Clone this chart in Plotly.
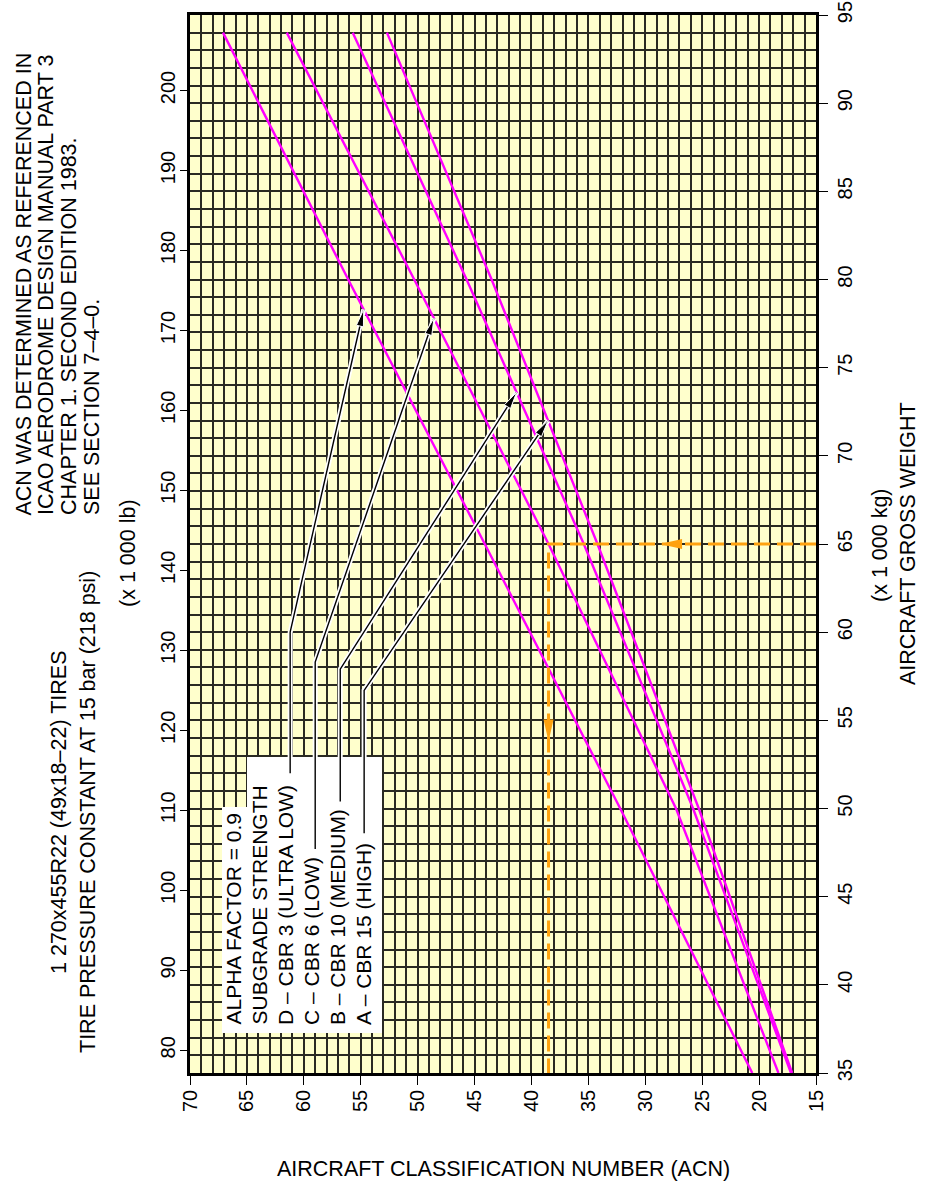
import numpy as np
import plotly.graph_objects as go

# ---------------- data ----------------
weights_kg = [35, 50, 65, 80, 94]
acn_D_cbr3 = [20.6, 32.2, 44.1, 56.1, 67.1]
acn_C_cbr6 = [18.3, 27.3, 38.5, 50.3, 61.5]
acn_B_cbr10 = [17.2, 25.8, 35.4, 45.7, 55.7]
acn_A_cbr15 = [17.1, 25.3, 34.2, 43.5, 52.7]

example_weight_kg = 65
example_acn = 38.5

acn_ticks = [70, 65, 60, 55, 50, 45, 40, 35, 30, 25, 20, 15]
kg_ticks = [35, 40, 45, 50, 55, 60, 65, 70, 75, 80, 85, 90, 95]
lb_ticks = [80, 90, 100, 110, 120, 130, 140, 150, 160, 170, 180, 190, 200]

legend_lines = ["ALPHA FACTOR = 0.9", "SUBGRADE STRENGTH",
                "D \u2013 CBR 3 (ULTRA LOW)", "C \u2013 CBR 6 (LOW)",
                "B \u2013 CBR 10 (MEDIUM)", "A \u2013 CBR 15 (HIGH)"]
header_lines = ["ACN WAS DETERMINED AS REFERENCED IN",
                "ICAO AERODROME DESIGN MANUAL PART 3",
                "CHAPTER 1. SECOND EDITION 1983.",
                "SEE SECTION 7\u20134\u20130."]
tire_lines = ["1 270x455R22 (49x18\u201322) TIRES",
              "TIRE PRESSURE CONSTANT AT 15 bar (218 psi)"]

KG_TO_LB = 2.20462
ACN_RANGE = [70, 15]
KG_RANGE = [35, 95]

FONT = "Liberation Sans, Arial, Helvetica, sans-serif"
MAGENTA = "#FF00FF"
ORANGE = "#FFA20F"

W, H = 934, 1187
PL, PR, PT, PB = 190, 816, 15, 1073   # plot area in page pixels
ML, MT, MR, MB = PL, PT, W - PR, H - PB
PW, PH = PR - PL, PB - PT


def fx(px):
    return (px - PL) / PW


def fy(py):
    return (PB - py) / PH


PX_PER_ACN = PW / (ACN_RANGE[0] - ACN_RANGE[1])
PX_PER_KG = PH / (KG_RANGE[1] - KG_RANGE[0])

fig = go.Figure()

series = [acn_D_cbr3, acn_C_cbr6, acn_B_cbr10, acn_A_cbr15]
for s in series:
    fig.add_trace(go.Scatter(x=s, y=weights_kg, mode="lines",
                             line=dict(color=MAGENTA, width=2.4),
                             hoverinfo="skip", showlegend=False))

# example reading path (orange dashed)
fig.add_trace(go.Scatter(
    x=[ACN_RANGE[1], example_acn, example_acn],
    y=[example_weight_kg, example_weight_kg, KG_RANGE[0]],
    mode="lines", line=dict(color=ORANGE, width=3, dash="16px,7px"),
    hoverinfo="skip", showlegend=False))

# invisible trace for lb axis
fig.add_trace(go.Scatter(x=[ACN_RANGE[0]], y=[KG_RANGE[0] * KG_TO_LB], yaxis="y2",
                         mode="markers", marker=dict(opacity=0),
                         hoverinfo="skip", showlegend=False))

shapes = []
annotations = []

# white box behind legend text
shapes.append(dict(type="rect", xref="paper", yref="paper",
                   x0=fx(247), x1=fx(382), y0=fy(1033), y1=fy(757),
                   fillcolor="white", line=dict(width=0), layer="above"))
shapes.append(dict(type="rect", xref="paper", yref="paper",
                   x0=fx(222), x1=fx(248), y0=fy(1033), y1=fy(807),
                   fillcolor="white", line=dict(width=0), layer="above"))

# leader lines: (bend ACN, bend kg, bottom kg, tip kg, series)
leaders = [
    (61.2, 60.0, 52.0, 78.3, acn_D_cbr3),
    (59.0, 58.3, 47.7, 77.8, acn_C_cbr6),
    (56.8, 57.9, 50.4, 73.6, acn_B_cbr10),
    (54.7, 56.7, 48.6, 72.0, acn_A_cbr15),
]
for bx, bkg, botkg, tkg, s in leaders:
    tx = float(np.interp(tkg, weights_kg, s))
    path = f"M{bx},{botkg} L{bx},{bkg} L{tx},{tkg}"
    shapes.append(dict(type="path", xref="x", yref="y", path=path,
                       line=dict(color="white", width=5), layer="above"))
    shapes.append(dict(type="path", xref="x", yref="y", path=path,
                       line=dict(color="black", width=1.4), layer="above"))
    # arrowhead in pixel space
    dx = -(tx - bx) * PX_PER_ACN
    dy = (tkg - bkg) * PX_PER_KG
    n = (dx ** 2 + dy ** 2) ** 0.5
    ux, uy = dx / n, dy / n
    L, Wd = 17, 3.6
    bxp, byp = -L * ux, -L * uy
    p1 = (bxp - Wd * uy, byp + Wd * ux)
    p2 = (bxp + Wd * uy, byp - Wd * ux)
    shapes.append(dict(type="path", xref="x", yref="y",
                       xsizemode="pixel", ysizemode="pixel",
                       xanchor=tx, yanchor=tkg,
                       path=f"M0,0 L{p1[0]:.2f},{p1[1]:.2f} L{p2[0]:.2f},{p2[1]:.2f} Z",
                       fillcolor="black", line=dict(color="white", width=1),
                       layer="above"))

# orange arrowheads
shapes.append(dict(type="path", xref="x", yref="y", xsizemode="pixel", ysizemode="pixel",
                   xanchor=28.7, yanchor=example_weight_kg,
                   path="M0,0 L22,5 L22,-5 Z", fillcolor=ORANGE,
                   line=dict(width=0), layer="above"))
shapes.append(dict(type="path", xref="x", yref="y", xsizemode="pixel", ysizemode="pixel",
                   xanchor=example_acn, yanchor=53.8,
                   path="M0,0 L5,22 L-5,22 Z", fillcolor=ORANGE,
                   line=dict(width=0), layer="above"))


def rot_text(t, px, py, yanchor="middle", size=21.5):
    return dict(xref="paper", yref="paper", x=fx(px), y=fy(py), text=t,
                showarrow=False, textangle=-90, xanchor="center", yanchor=yanchor,
                font=dict(family=FONT, size=size, color="black"))


# legend text lines (rotated)
for t, px in zip(legend_lines, [233, 259, 285, 311, 337, 363]):
    annotations.append(rot_text(t, px, 1027, "bottom", 21))
# header
for t, px in zip(header_lines, [23, 46, 69, 92]):
    annotations.append(rot_text(t, px, 517, "bottom"))
# tires
for t, px in zip(tire_lines, [59, 88]):
    annotations.append(rot_text(t, px, 812))

annotations.append(rot_text("(x 1 000 lb)", 128, 553))
annotations.append(rot_text("(x 1 000 kg)", 880, 545))
annotations.append(rot_text("AIRCRAFT GROSS WEIGHT", 908, 544))
annotations.append(dict(xref="paper", yref="paper", x=fx(503), y=fy(1169),
                        text="AIRCRAFT CLASSIFICATION NUMBER (ACN)", showarrow=False,
                        xanchor="center", yanchor="middle",
                        font=dict(family=FONT, size=21.5, color="black")))

GRID = "#2a2a22"
fig.update_layout(
    width=W, height=H,
    margin=dict(l=ML, r=MR, t=MT, b=MB, pad=0, autoexpand=False),
    paper_bgcolor="white", plot_bgcolor="#FFFFCC",
    font=dict(family=FONT, size=20, color="black"),
    showlegend=False,
    xaxis=dict(range=ACN_RANGE, tickvals=acn_ticks, ticktext=[str(v) for v in acn_ticks],
               tickangle=-90, ticks="outside", ticklen=9, tickwidth=1.2, tickcolor="black",
               ticklabelstandoff=-3, ticklabeloverflow="allow",
               showgrid=True, gridcolor=GRID, gridwidth=1.6,
               minor=dict(dtick=1, tick0=15, showgrid=True, gridcolor=GRID, gridwidth=1.6),
               showline=True, linecolor="black", linewidth=2.5, mirror=True,
               zeroline=False, tickfont=dict(size=20), automargin=False),
    yaxis=dict(range=KG_RANGE, tickvals=kg_ticks, side="right",
               tickangle=-90, ticks="outside", ticklen=9, tickwidth=1.2, tickcolor="black",
               ticklabeloverflow="allow",
               showgrid=True, gridcolor=GRID, gridwidth=1.6,
               minor=dict(dtick=1, tick0=35, showgrid=True, gridcolor=GRID, gridwidth=1.6),
               showline=True, linecolor="black", linewidth=2.5, mirror=True,
               zeroline=False, tickfont=dict(size=20), automargin=False),
    yaxis2=dict(range=[KG_RANGE[0] * KG_TO_LB, KG_RANGE[1] * KG_TO_LB], overlaying="y",
                side="left", tickvals=lb_ticks, tickangle=-90, ticks="outside",
                ticklen=9, tickwidth=1.2, tickcolor="black", ticklabelstandoff=-3,
                ticklabeloverflow="allow",
                showgrid=False, zeroline=False, showline=False,
                tickfont=dict(size=20), automargin=False),
    shapes=shapes,
    annotations=annotations,
)

fig.write_html("out.html", config={"displayModeBar": False},
               post_script="document.body.style.margin='0';document.body.style.overflow='hidden';")
